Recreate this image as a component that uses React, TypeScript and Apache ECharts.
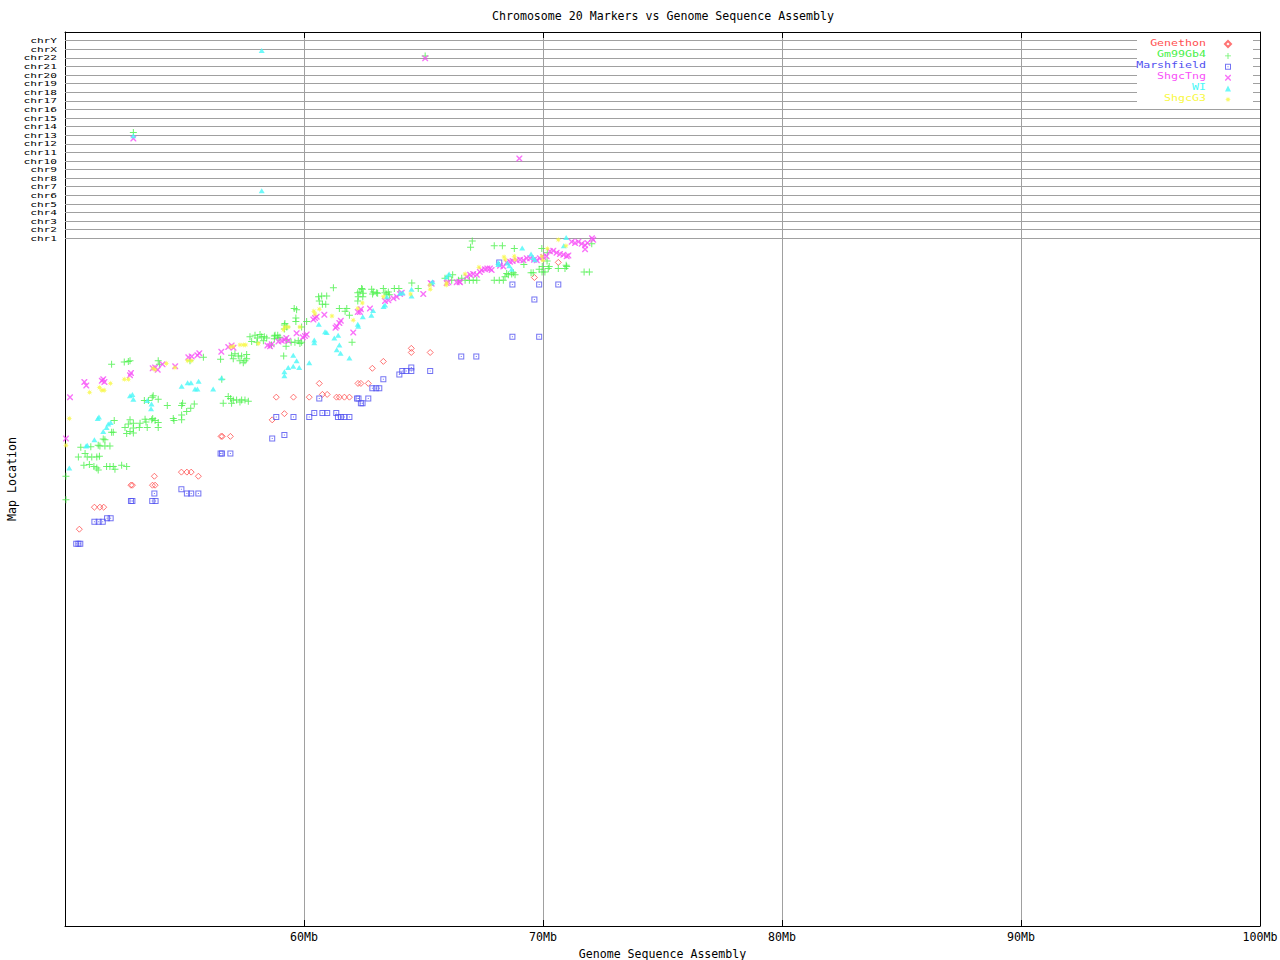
import React, { useEffect, useRef } from 'react';
import * as echarts from 'echarts';

// ---- tick labels / rows ----
const chrLabels = ['chr1', 'chr2', 'chr3', 'chr4', 'chr5', 'chr6', 'chr7', 'chr8', 'chr9', 'chr10', 'chr11', 'chr12', 'chr13', 'chr14', 'chr15', 'chr16', 'chr17', 'chr18', 'chr19', 'chr20', 'chr21', 'chr22', 'chrX', 'chrY'];
const chrRowValues = [100, 101.25, 102.5, 103.75, 105, 106.25, 107.5, 108.75, 110, 111.25, 112.5, 113.75, 115, 116.25, 117.5, 118.75, 120, 121.25, 122.5, 123.75, 125, 126.25, 127.5, 128.75];
const seriesNames = ['Genethon', 'Gm99Gb4', 'Marshfield', 'ShgcTng', 'WI', 'ShgcG3'];

// ---- data: [assembly position (Mb), map location] ----
const genethon: number[][] = [
  [50.60, 57.7], [51.23, 60.9], [51.46, 60.9], [51.62, 60.9], [52.76, 64.1], [52.82, 64.1], [53.66, 64.1], [53.77, 64.1], [53.74, 65.4],
  [54.87, 66.0], [55.10, 66.0], [55.28, 66.0], [55.58, 65.4], [56.53, 71.2], [56.58, 71.2], [56.92, 71.2], [58.67, 73.6], [59.18, 74.5],
  [58.84, 76.9], [59.56, 76.9], [60.22, 76.9], [60.77, 77.3], [60.97, 77.3], [61.36, 76.9], [61.48, 76.9], [61.69, 76.9], [61.90, 76.9],
  [60.64, 78.9], [62.26, 78.9], [62.38, 78.9], [62.69, 78.9], [62.86, 81.1], [63.32, 82.1], [64.49, 84.0], [64.49, 83.4], [65.28, 83.4],
  [69.64, 94.3], [70.64, 96.5]
];
const gm99Gb4: number[][] = [
  [50.04, 65.4], [50.04, 62.0], [50.56, 68.2], [50.66, 69.6], [50.84, 68.7], [50.93, 68.2], [51.08, 69.7], [51.12, 68.2], [51.33, 68.2],
  [51.44, 68.3], [50.79, 67.0], [51.02, 67.1], [51.21, 66.8], [51.33, 66.6], [51.39, 66.3], [51.74, 66.8], [51.88, 66.8], [52.02, 66.8],
  [52.09, 66.4], [52.37, 67.0], [52.58, 66.8],
  [51.39, 69.9], [51.46, 69.8], [51.67, 69.8], [51.88, 69.8], [51.60, 70.8], [51.67, 70.7], [52.02, 71.8], [51.95, 71.8], [52.51, 72.5],
  [52.58, 71.6], [52.72, 71.9], [52.86, 72.4], [52.86, 71.7], [53.11, 72.5], [53.44, 72.5], [53.90, 72.5], [52.65, 73.0], [52.72, 73.6],
  [52.86, 73.1], [53.14, 73.1], [53.35, 73.7], [53.39, 73.3], [53.63, 73.6], [53.67, 73.8], [53.77, 73.5], [53.90, 73.2], [52.06, 73.5],
  [54.56, 73.5], [54.88, 73.6], [54.53, 73.8], [54.88, 74.3], [54.28, 75.7], [54.88, 75.7], [54.92, 76.0], [55.09, 74.8], [55.26, 75.3],
  [55.41, 75.9], [53.32, 76.4], [53.49, 76.4], [53.65, 76.9], [53.69, 77.1], [53.90, 76.6],
  [51.95, 81.7], [52.48, 82.0], [52.65, 82.1], [52.72, 82.2], [53.90, 82.2], [53.95, 81.7], [55.23, 82.2], [55.79, 82.7], [56.51, 82.4],
  [56.56, 79.5],
  [56.62, 76.0], [56.83, 77.0], [56.93, 76.7], [57.04, 76.5], [57.18, 76.5], [57.39, 76.5], [57.53, 76.5], [57.67, 76.3], [56.97, 76.0],
  [57.32, 76.2],
  [56.97, 83.0], [57.11, 83.2], [57.04, 82.5], [57.25, 82.9], [57.39, 82.9], [57.60, 83.1], [57.60, 82.5], [57.32, 82.2], [57.46, 81.9],
  [57.53, 82.2],
  [57.74, 85.7], [57.95, 85.9], [58.05, 85.5], [58.16, 86.0], [58.23, 85.7], [58.34, 85.7], [58.44, 85.5], [57.81, 85.0], [58.03, 84.9],
  [58.30, 85.1], [58.64, 84.5], [58.76, 85.8], [58.79, 85.9], [58.76, 85.4], [58.90, 85.9], [58.92, 85.5], [58.99, 85.6], [59.28, 85.2],
  [59.46, 84.9], [59.62, 84.9], [59.76, 85.1], [59.90, 84.9], [59.15, 82.9], [59.25, 84.3],
  [59.18, 87.4], [59.20, 87.6], [59.18, 86.8], [59.28, 87.1], [59.59, 89.8], [59.69, 89.6], [59.66, 88.4], [59.66, 87.9], [60.11, 87.9],
  [59.90, 87.1], [59.83, 84.7],
  [60.61, 91.5], [60.64, 90.9], [60.74, 91.6], [60.95, 91.6], [60.77, 90.4], [60.91, 90.4], [61.23, 92.8], [61.48, 89.8], [61.72, 89.4],
  [61.79, 89.8], [61.90, 88.8], [62.01, 84.9],
  [62.25, 92.1], [62.27, 91.5], [62.25, 90.9], [62.41, 92.7], [62.44, 92.6], [62.34, 92.2], [62.48, 92.0], [62.46, 91.5], [62.83, 92.6],
  [62.90, 92.2], [62.87, 91.9], [63.04, 92.1], [63.08, 92.0], [63.32, 92.7], [63.39, 92.1], [63.46, 91.9], [63.53, 92.2], [63.57, 91.8],
  [63.78, 92.7], [63.97, 92.7], [64.51, 93.5], [64.78, 92.7],
  [65.90, 94.2], [66.04, 94.4], [66.22, 94.7], [66.18, 93.9], [66.46, 93.9], [66.60, 94.2], [66.74, 93.9], [66.92, 93.9], [67.08, 93.9],
  [67.23, 93.9],
  [67.04, 99.6], [66.97, 98.7], [67.96, 98.9], [68.30, 98.9], [68.80, 98.5], [69.95, 98.5], [70.18, 97.9], [70.17, 96.7], [69.20, 96.2],
  [67.96, 93.9], [68.17, 93.9], [68.34, 93.9], [68.41, 94.4], [68.48, 94.9], [68.55, 94.7], [68.69, 94.8], [68.76, 95.0], [68.83, 94.7],
  [69.50, 95.0], [69.59, 95.0], [69.84, 95.5], [69.97, 95.9], [70.22, 95.6], [70.26, 95.9], [69.96, 95.1], [70.08, 95.1], [70.64, 95.6],
  [70.92, 95.6], [70.97, 96.1], [70.99, 95.9], [71.72, 95.1], [71.94, 95.1], [72.04, 99.2],
  [52.86, 115.4], [65.07, 126.5]
];
const marshfield: number[][] = [
  [50.47, 55.6], [50.56, 55.6], [50.64, 55.6], [51.23, 58.8], [51.41, 58.8], [51.58, 58.8], [51.76, 59.3], [51.91, 59.3], [52.76, 61.8],
  [52.82, 61.8], [53.65, 61.8], [53.79, 61.8], [53.74, 62.9], [54.87, 63.5], [55.10, 62.9], [55.28, 62.9], [55.58, 62.9], [56.51, 68.7],
  [56.57, 68.7], [56.92, 68.7], [58.67, 70.9], [59.18, 71.4], [58.84, 74.0], [59.56, 74.0], [60.22, 74.0], [60.43, 74.6], [60.77, 74.6],
  [60.97, 74.6], [61.35, 74.6], [61.42, 74.0], [61.55, 74.0], [61.69, 74.0], [61.90, 74.0], [60.64, 76.7], [62.22, 76.7], [62.28, 76.7],
  [62.38, 76.0], [62.45, 76.0], [62.69, 76.7], [62.86, 78.2], [63.02, 78.2], [63.15, 78.2], [63.32, 79.5], [63.99, 80.2], [64.11, 80.7],
  [64.28, 80.7], [64.49, 80.7], [64.49, 81.2], [65.28, 80.7], [66.58, 82.8], [67.21, 82.8], [68.72, 85.7], [69.84, 85.7], [69.64, 91.1],
  [68.72, 93.3], [69.84, 93.3], [70.64, 93.3], [68.17, 96.5]
];
const shgcTng: number[][] = [
  [50.04, 70.9], [50.21, 76.9], [50.81, 79.1], [50.89, 78.6], [51.54, 79.3], [51.60, 79.5], [51.65, 79.1], [52.76, 80.4], [52.72, 80.1],
  [53.67, 81.1], [53.77, 81.2], [53.88, 80.9], [54.08, 81.7], [54.61, 81.4], [55.16, 82.7], [55.30, 82.8], [55.54, 83.0], [55.62, 83.3],
  [56.54, 83.5], [56.83, 84.2], [56.97, 84.4], [57.05, 84.1], [58.47, 84.4], [58.58, 84.3], [58.65, 84.6], [58.93, 85.0], [59.07, 85.1],
  [59.18, 85.2], [59.26, 85.5], [59.34, 85.1], [59.69, 86.2], [59.95, 85.6], [60.04, 85.8], [60.11, 86.0], [60.39, 88.2], [60.46, 88.4],
  [60.53, 88.6], [60.85, 88.9], [61.32, 87.0], [61.37, 87.2], [61.48, 87.7], [61.54, 88.0], [62.06, 86.3], [62.25, 89.3], [62.34, 89.3],
  [62.38, 89.7], [62.76, 89.8], [63.39, 90.9], [63.53, 91.0], [63.74, 91.3], [63.88, 91.5], [64.02, 91.9], [64.09, 92.1], [64.99, 91.9],
  [65.30, 93.5], [65.34, 93.4], [65.97, 93.5], [66.04, 93.6], [66.39, 93.6], [66.50, 93.7], [66.53, 93.6], [66.81, 94.4], [66.95, 94.7],
  [67.08, 94.8], [67.23, 94.7], [67.36, 95.1], [67.43, 95.4], [67.57, 95.5], [67.67, 95.6], [67.78, 95.6], [67.85, 95.4], [68.20, 96.0],
  [68.34, 95.9], [68.48, 96.5], [68.62, 96.6], [68.73, 96.7], [68.90, 96.8], [69.04, 96.9], [69.18, 96.8], [69.32, 97.1], [69.46, 97.1],
  [69.62, 96.9], [69.74, 96.8], [69.87, 97.1], [70.01, 97.3], [70.15, 97.4], [70.29, 98.1], [70.43, 98.2], [70.57, 97.9], [70.71, 97.7],
  [70.85, 97.6], [70.99, 97.4], [71.06, 97.5], [71.20, 99.5], [71.34, 99.3], [71.48, 99.5], [71.62, 99.2], [71.76, 99.0], [71.86, 99.3],
  [72.05, 100.0], [72.10, 99.8], [71.76, 98.4],
  [52.86, 114.5], [65.07, 126.2], [69.01, 111.6]
];
const wi: number[][] = [
  [50.18, 66.6], [50.88, 69.8], [50.93, 69.9], [51.23, 70.7], [51.60, 71.9], [51.74, 72.5], [51.81, 73.0], [51.91, 73.2], [51.37, 73.8],
  [51.42, 74.0], [52.82, 77.3], [52.72, 77.1], [52.86, 76.6], [53.44, 76.4], [53.62, 75.9], [53.60, 75.2], [54.88, 78.5], [55.13, 79.0],
  [55.27, 79.0], [55.59, 79.2], [55.44, 78.1], [55.54, 78.1], [56.20, 78.1], [56.55, 79.7], [59.55, 83.0], [59.69, 82.2], [59.34, 81.2],
  [59.55, 81.4], [59.80, 81.2], [59.18, 80.6], [59.18, 80.0], [60.22, 81.9], [60.62, 87.5], [60.88, 86.4], [60.95, 86.3], [60.43, 85.2],
  [60.43, 84.8], [61.27, 85.5], [61.43, 85.9], [61.48, 84.5], [61.37, 83.8], [61.53, 83.3], [61.90, 82.6], [62.25, 87.5], [62.27, 87.2],
  [62.46, 88.6], [62.82, 88.8], [62.89, 89.5], [63.33, 90.1], [63.39, 90.3], [63.46, 91.5], [64.02, 92.0], [64.13, 92.1], [64.50, 92.6],
  [64.50, 91.6], [65.33, 93.5], [65.38, 93.7], [65.97, 94.4], [66.07, 94.8], [68.13, 96.5], [68.13, 96.2], [68.51, 96.4], [68.59, 96.0],
  [68.69, 95.5], [69.13, 98.6], [69.50, 97.7], [69.59, 97.2], [69.66, 96.9], [70.97, 100.1], [70.87, 98.9],
  [58.23, 127.3], [58.23, 106.9], [52.86, 114.9]
];
const shgcG3: number[][] = [
  [50.04, 69.9], [50.18, 73.8], [51.03, 77.6], [51.44, 78.3], [51.54, 77.9], [51.64, 77.9], [51.90, 78.9], [52.48, 79.5], [52.65, 79.5],
  [53.69, 81.1], [53.77, 80.9], [54.24, 81.8], [54.60, 81.2], [55.13, 82.2], [55.29, 82.2], [56.93, 84.2], [57.04, 84.3], [57.32, 84.5],
  [57.46, 84.5], [57.56, 84.5], [58.09, 84.7], [59.14, 86.7], [59.20, 87.1], [59.34, 87.1], [59.83, 87.1], [60.41, 89.4], [60.46, 89.0],
  [60.64, 89.7], [61.17, 88.7], [62.06, 88.1], [62.25, 89.8], [62.44, 90.6], [63.32, 91.5], [64.46, 91.9], [65.28, 92.6], [65.27, 93.2],
  [65.95, 93.2], [65.97, 93.5], [66.74, 94.8], [67.32, 95.8], [68.37, 97.3], [68.42, 96.9], [68.80, 97.4], [68.83, 96.9], [69.95, 97.4],
  [69.99, 96.8], [70.18, 98.5], [70.64, 99.8], [70.96, 98.9]
];

const FONT = '"DejaVu Sans Mono", monospace';
const RED = '#ff5050';
const GREEN = '#48f048';
const BLUE = '#5050f0';
const MAGENTA = '#f850f8';
const CYAN = '#48f8f8';
const YELLOW = '#f8f840';
const GRIDGRAY = '#a0a0a0';

const PLUS = 'path://M3,0H4V3H7V4H4V7H3V4H0V3H3Z';
const SQUARE_DOT = 'path://M0,0H6V6H0Z M1,1V5H5V1Z M2.5,2.5H3.5V3.5H2.5Z';
const CROSS = 'path://M0,0H1L3,2L5,0H6V1L4,3L6,5V6H5L3,4L1,6H0V5L2,3L0,1Z';
const STAR = 'path://M3,0L3.5,1.8L5.12,0.88L4.2,2.5L6,3L4.2,3.5L5.12,5.12L3.5,4.2L3,6L2.5,4.2L0.88,5.12L1.8,3.5L0,3L1.8,2.5L0.88,0.88L2.5,1.8Z';

// legend layout (top-right box inside the plot)
const LEGEND_TOP = 40;
const LEGEND_ROW = 10.9;
const LEGEND_ICON_RIGHT = 48;
const LEGEND_TEXT_X = 1206;

export default function App() {
  const ref = useRef<HTMLDivElement>(null);
  useEffect(() => {
    document.body.style.margin = '0';
    const chart = echarts.init(ref.current as HTMLDivElement, null, { renderer: 'svg' });
    const txt = { fontFamily: FONT, fontSize: 11.6, color: '#000' };
    const blackLine = { color: '#000', width: 1 };
    const colors = [RED, GREEN, BLUE, MAGENTA, CYAN, YELLOW];
    chart.setOption({
      animation: false,
      backgroundColor: '#fff',
      title: {
        text: 'Chromosome 20 Markers vs Genome Sequence Assembly',
        left: 663,
        top: 10,
        padding: 0,
        textAlign: 'center',
        textStyle: { ...txt, fontWeight: 'normal' }
      },
      grid: { left: 65, right: 20, top: 32, bottom: 34, containLabel: false, outerBoundsMode: 'none' },
      legend: {
        orient: 'vertical',
        right: LEGEND_ICON_RIGHT,
        top: LEGEND_TOP,
        align: 'right',
        itemWidth: 6,
        itemHeight: 6,
        itemGap: LEGEND_ROW - 6,
        padding: 0,
        selectedMode: false,
        z: 6,
        formatter: () => '',
        textStyle: { fontSize: 1 },
        data: seriesNames
      },
      xAxis: [
        {
          type: 'value', position: 'bottom', min: 50, max: 100, interval: 10,
          axisLine: { show: true, onZero: false, lineStyle: blackLine },
          axisTick: { show: true, inside: true, length: 6, lineStyle: blackLine },
          axisLabel: { ...txt, margin: 5, formatter: (v: number) => (v === 50 ? '' : `${v}Mb`) },
          splitLine: { show: true, lineStyle: { color: GRIDGRAY, width: 1 } },
          name: 'Genome Sequence Assembly', nameLocation: 'middle', nameGap: 22, nameTextStyle: txt
        },
        {
          type: 'value', position: 'top', min: 50, max: 100, interval: 10,
          axisLine: { show: true, onZero: false, lineStyle: blackLine },
          axisTick: { show: true, inside: true, length: 6, lineStyle: blackLine },
          axisLabel: { show: false },
          splitLine: { show: false }
        }
      ],
      yAxis: [
        {
          type: 'value', min: 0, max: 130,
          axisLine: { show: true, onZero: false, lineStyle: blackLine },
          axisTick: { show: true, inside: true, length: 6, customValues: chrRowValues, lineStyle: blackLine },
          axisLabel: { show: false },
          splitLine: { show: false },
          name: 'Map Location', nameLocation: 'middle', nameGap: 47, nameMoveOverlap: false,
          nameTextStyle: { ...txt, lineHeight: 12 }
        },
        {
          type: 'value', position: 'right', min: 0, max: 130,
          axisLine: { show: true, onZero: false, lineStyle: blackLine },
          axisTick: { show: true, inside: true, length: 6, customValues: chrRowValues, lineStyle: blackLine },
          axisLabel: { show: false },
          splitLine: { show: false }
        }
      ],
      series: [
        {
          type: 'scatter', name: 'rows', data: [], silent: true,
          markLine: {
            z: 1, silent: true, symbol: ['none', 'none'], label: { show: false },
            lineStyle: { color: GRIDGRAY, width: 1, type: 'solid' },
            emphasis: { disabled: true },
            data: chrRowValues.map((v) => ({ yAxis: v }))
          }
        },
        {
          type: 'scatter', name: 'Genethon', data: genethon, symbol: 'diamond', symbolSize: 6,
          itemStyle: { color: 'rgba(255,255,255,0)', borderColor: RED, borderWidth: 1 }
        },
        { type: 'scatter', name: 'Gm99Gb4', data: gm99Gb4, symbol: PLUS, symbolSize: 7, itemStyle: { color: GREEN } },
        { type: 'scatter', name: 'Marshfield', data: marshfield, symbol: SQUARE_DOT, symbolSize: 6, itemStyle: { color: BLUE } },
        { type: 'scatter', name: 'ShgcTng', data: shgcTng, symbol: CROSS, symbolSize: 6, itemStyle: { color: MAGENTA } },
        { type: 'scatter', name: 'WI', data: wi, symbol: 'triangle', symbolSize: [6, 5], itemStyle: { color: CYAN } },
        { type: 'scatter', name: 'ShgcG3', data: shgcG3, symbol: STAR, symbolSize: 6, itemStyle: { color: YELLOW } }
      ]
    });

    // chromosome row labels, placed through the axis scale
    const axisX = chart.convertToPixel({ xAxisIndex: 0 }, 50) as number;
    const chrTexts = chrLabels.map((t, i) => ({
      type: 'text',
      x: axisX - 8,
      y: chart.convertToPixel({ yAxisIndex: 0 }, chrRowValues[i]) as number,
      scaleX: 1.55,
      silent: true,
      z: 5,
      style: { text: t, fontFamily: FONT, fontSize: 7.2, fill: '#000', align: 'right', verticalAlign: 'middle' }
    }));
    // legend names next to the legend icons
    const legendTexts = seriesNames.map((n, i) => ({
      type: 'text',
      x: LEGEND_TEXT_X,
      y: LEGEND_TOP + 3 + i * LEGEND_ROW,
      scaleX: 1.29,
      silent: true,
      z: 6,
      style: { text: n, fontFamily: FONT, fontSize: 9, fill: colors[i], align: 'right', verticalAlign: 'middle' }
    }));
    chart.setOption({
      graphic: [
        {
          type: 'rect', silent: true, z: 3,
          shape: { x: 1137, y: 33, width: 116, height: 72 },
          style: { fill: '#fff' }
        },
        ...chrTexts,
        ...legendTexts
      ]
    });
    return () => chart.dispose();
  }, []);
  return <div ref={ref} style={{ position: 'absolute', left: 0, top: 0, width: 1280, height: 960 }} />;
}
